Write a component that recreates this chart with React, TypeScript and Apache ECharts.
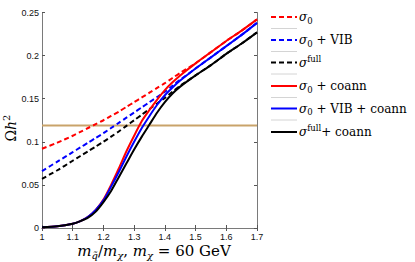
import React, { useEffect, useRef } from "react";
import * as echarts from "echarts";

const xValues = [1.0, 1.05, 1.1, 1.125, 1.15, 1.175, 1.2, 1.225, 1.25, 1.275, 1.3, 1.325, 1.35, 1.375, 1.4, 1.425, 1.45, 1.5, 1.55, 1.6, 1.65, 1.7];

const sigma0 = [0.092, 0.099, 0.107, 0.1115, 0.116, 0.1205, 0.125, 0.13, 0.135, 0.1405, 0.146, 0.1515, 0.157, 0.1625, 0.168, 0.174, 0.18, 0.191, 0.204, 0.217, 0.229, 0.242];
const sigma0VIB = [0.066, 0.077, 0.088, 0.0935, 0.099, 0.1045, 0.11, 0.116, 0.122, 0.128, 0.134, 0.14, 0.146, 0.152, 0.158, 0.165, 0.172, 0.185, 0.198, 0.211, 0.224, 0.238];
const sigmaFull = [0.057, 0.067, 0.078, 0.0835, 0.089, 0.0945, 0.1, 0.106, 0.112, 0.1185, 0.125, 0.1315, 0.138, 0.1445, 0.151, 0.158, 0.165, 0.177, 0.189, 0.202, 0.214, 0.227];
const sigma0Coann = [0.001, 0.002, 0.005, 0.008, 0.013, 0.021, 0.033, 0.05, 0.069, 0.089, 0.107, 0.124, 0.137, 0.149, 0.16, 0.169, 0.177, 0.191, 0.204, 0.217, 0.229, 0.242];
const sigma0VIBCoann = [0.001, 0.002, 0.005, 0.008, 0.013, 0.021, 0.032, 0.048, 0.065, 0.083, 0.1, 0.116, 0.13, 0.143, 0.154, 0.163, 0.171, 0.185, 0.198, 0.211, 0.224, 0.238];
const sigmaFullCoann = [0.001, 0.002, 0.005, 0.008, 0.012, 0.019, 0.03, 0.043, 0.059, 0.075, 0.091, 0.106, 0.12, 0.134, 0.146, 0.156, 0.164, 0.177, 0.189, 0.202, 0.214, 0.227];

const planckOmega = 0.119;
const planckRange = [1.0, 1.7];

const legendLabels = [
  "{i|σ}{sub|0}",
  "{i|σ}{sub|0}{n| + VIB}",
  "{i|σ}{sup|full}",
  "{i|σ}{sub|0}{n| + coann}",
  "{i|σ}{sub|0}{n| + VIB + coann}",
  "{i|σ}{sup|full}{n|+ coann}",
];

const seriesDefs = [
  { name: "s0", data: sigma0, color: "#ff0000", dashed: true },
  { name: "s0vib", data: sigma0VIB, color: "#0000ff", dashed: true },
  { name: "sfull", data: sigmaFull, color: "#000000", dashed: true },
  { name: "s0c", data: sigma0Coann, color: "#ff0000", dashed: false },
  { name: "s0vibc", data: sigma0VIBCoann, color: "#0000ff", dashed: false },
  { name: "sfullc", data: sigmaFullCoann, color: "#000000", dashed: false },
];

const serif = "'DejaVu Serif', 'Liberation Serif', serif";
const sans = "'Liberation Sans', Arial, sans-serif";

const richStyles = {
  i: { fontFamily: serif, fontStyle: "italic", fontSize: 12, color: "#000" },
  n: { fontFamily: serif, fontSize: 12, color: "#000" },
  sub: { fontFamily: serif, fontSize: 8.5, color: "#000", padding: [7, 0, 0, 0] },
  sup: { fontFamily: serif, fontSize: 8.5, color: "#000", padding: [0, 0, 8, 0] },
};

export default function App() {
  const ref = useRef<HTMLDivElement>(null);
  useEffect(() => {
    if (!ref.current) return;
    const chart = echarts.init(ref.current, null, { renderer: "svg" });

    const legendGraphics: any[] = [];
    const rowY = [17, 40, 62.5, 86, 108.5, 132];
    const sepY = [28.5, 51.5, 74, 97.5, 120];
    sepY.forEach((y) =>
      legendGraphics.push({
        type: "line",
        shape: { x1: 271, y1: y, x2: 297, y2: y },
        style: { stroke: "#d4d4d4", lineWidth: 1 },
      })
    );
    seriesDefs.forEach((s, i) => {
      legendGraphics.push({
        type: "line",
        shape: { x1: 271, y1: rowY[i], x2: 297, y2: rowY[i] },
        style: { stroke: s.color, lineWidth: 2, lineDash: s.dashed ? [5, 3] : null },
      });
      legendGraphics.push({
        type: "text",
        x: 299,
        y: rowY[i],
        style: {
          text: legendLabels[i],
          rich: richStyles,
          verticalAlign: "middle",
          align: "left",
        },
      });
    });

    const series: any[] = [
      {
        type: "line",
        name: "planck",
        data: planckRange.map((x) => [x, planckOmega]),
        showSymbol: false,
        lineStyle: { color: "#c9a36a", width: 2 },
        z: 1,
      },
      ...seriesDefs.map((s) => ({
        type: "line",
        name: s.name,
        data: xValues.map((x, j) => [x, s.data[j]]),
        showSymbol: false,
        smooth: 0.25,
        lineStyle: { color: s.color, width: 2, type: s.dashed ? [5, 3] : "solid" },
        z: s.dashed ? 2 : 3,
      })),
    ];

    const axisLine = { show: true, lineStyle: { color: "#7a7a7a", width: 1 } };
    const tick = { show: true, inside: true, length: 3, lineStyle: { color: "#555" } };

    chart.setOption({
      animation: false,
      grid: { left: 42, right: 158, top: 12.5, bottom: 34, show: false },
      xAxis: [
        {
          type: "value",
          min: 1,
          max: 1.7,
          interval: 0.1,
          axisLine,
          axisTick: tick,
          splitLine: { show: false },
          axisLabel: { color: "#111", fontSize: 9, fontFamily: sans, margin: 4 },
        },
        {
          type: "value",
          position: "top",
          min: 1,
          max: 1.7,
          interval: 0.1,
          axisLine,
          axisTick: tick,
          splitLine: { show: false },
          axisLabel: { show: false },
        },
      ],
      yAxis: [
        {
          type: "value",
          min: 0,
          max: 0.25,
          interval: 0.05,
          axisLine,
          axisTick: tick,
          splitLine: { show: false },
          axisLabel: { color: "#111", fontSize: 9, fontFamily: sans, margin: 3 },
        },
        {
          type: "value",
          position: "right",
          min: 0,
          max: 0.25,
          interval: 0.05,
          axisLine,
          axisTick: tick,
          splitLine: { show: false },
          axisLabel: { show: false },
        },
      ],
      series,
      graphic: [
        ...legendGraphics,
        {
          type: "text",
          x: 154,
          y: 251,
          style: {
            text: "{i|m}{sub|q̃}{n|/}{i|m}{sub|χ}{n|, }{i|m}{sub|χ}{n| = 60 GeV}",
            rich: {
              i: { fontFamily: serif, fontStyle: "italic", fontSize: 15, color: "#000" },
              n: { fontFamily: serif, fontSize: 15, color: "#000" },
              sub: { fontFamily: serif, fontStyle: "italic", fontSize: 10, color: "#000", padding: [8, 0, 0, 0] },
            },
            align: "center",
            verticalAlign: "middle",
          },
        },
        {
          type: "text",
          x: 11,
          y: 128,
          rotation: Math.PI / 2,
          style: {
            text: "{n|Ω}{i|h}{sup|2}",
            rich: {
              i: { fontFamily: serif, fontStyle: "italic", fontSize: 14, color: "#000" },
              n: { fontFamily: serif, fontSize: 14, color: "#000" },
              sup: { fontFamily: serif, fontSize: 10, color: "#000", padding: [0, 0, 9, 0] },
            },
            align: "center",
            verticalAlign: "middle",
          },
        },
      ],
    });
    return () => chart.dispose();
  }, []);
  return (
    <div
      ref={ref}
      style={{ position: "absolute", left: 0, top: 0, width: 415, height: 262, background: "#fff" }}
    />
  );
}
